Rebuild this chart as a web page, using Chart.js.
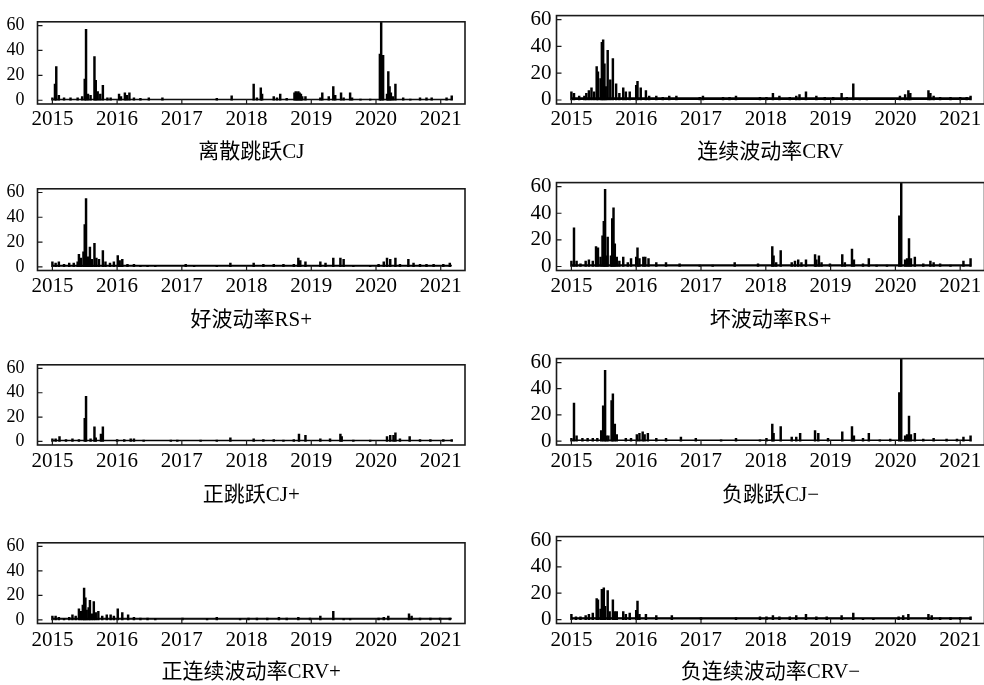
<!DOCTYPE html>
<html>
<head>
<meta charset="utf-8">
<script src="https://cdn.jsdelivr.net/npm/chart.js@4.4.1/dist/chart.umd.min.js"></script>
<style>
  html, body { margin: 0; padding: 0; background: #fff; overflow: hidden; width: 984px; height: 685px; }
  canvas { position: absolute; }
</style>
</head>
<body>
<script>
// axis ticks
const yearTicks = [2015, 2016, 2017, 2018, 2019, 2020, 2021];
const yTicks = [0, 10, 20, 30, 40, 50, 60];
const yLabelled = [0, 20, 40, 60];
const seriesStart = 2015.0, seriesEnd = 2021.17;

const titles = ['离散跳跃CJ', '连续波动率CRV', '好波动率RS+', '坏波动率RS+',
  '正跳跃CJ+', '负跳跃CJ−', '正连续波动率CRV+', '负连续波动率CRV−'];

// low-level background value of every series (the dense floor)
const floorLevels = [0.8, 1.5, 1.2, 1.2, 0.8, 0.8, 1.3, 1.3];

// spikes: [decimal year, value]
const cjSpikes = [[2015.00,2],[2015.04,13],[2015.06,27],[2015.10,4],[2015.18,2],[2015.28,2],[2015.39,2],[2015.46,3],
  [2015.50,17],[2015.52,57],[2015.55,5],[2015.59,4],[2015.65,35],[2015.67,16],[2015.70,7],[2015.74,5],[2015.78,12],
  [2015.85,2],[2015.90,2],[2016.03,5],[2016.06,3],[2016.12,6],[2016.15,4],[2016.19,6],[2016.26,2],[2016.36,1.5],
  [2016.49,2],[2016.70,2],[2017.54,1.5],[2017.77,3.5],[2018.11,13],[2018.16,2],[2018.22,10],[2018.24,5],[2018.42,3],
  [2018.47,2],[2018.52,5],[2018.62,1.5],[2018.74,6],[2018.76,7],[2018.78,6],[2018.80,7],[2018.82,6],[2018.84,5],
  [2018.86,3],[2018.91,3],[2019.14,2],[2019.17,6],[2019.27,3],[2019.34,11],[2019.37,4],[2019.46,6],[2019.50,2],
  [2019.60,6],[2019.63,2],[2019.76,1],[2019.91,1],[2020.06,37],[2020.08,63],[2020.11,36],[2020.17,5],[2020.19,23],
  [2020.21,11],[2020.23,6],[2020.26,3],[2020.30,13],[2020.42,2],[2020.53,1],[2020.68,2],[2020.78,2],[2020.86,2],
  [2021.09,2],[2021.17,3.5]];

const crvSpikes = [[2015.00,6],[2015.04,5],[2015.12,3],[2015.20,3],[2015.23,5],[2015.27,7],[2015.31,9],[2015.35,6],
  [2015.39,25],[2015.41,21],[2015.45,16],[2015.47,43],[2015.49,45],[2015.51,27],[2015.53,10],[2015.56,37],[2015.60,15],
  [2015.64,31],[2015.69,12],[2015.74,5],[2015.80,9],[2015.84,6],[2015.90,6],[2016.00,11],[2016.02,14],[2016.07,9],
  [2016.15,7],[2016.20,3],[2016.31,3],[2016.41,2],[2016.51,3],[2016.62,3],[2016.98,2],[2017.03,3],[2017.34,2],
  [2017.44,2],[2017.54,3],[2017.91,2],[2018.01,2],[2018.11,5],[2018.21,3],[2018.37,2],[2018.47,3],[2018.52,4],
  [2018.62,6],[2018.78,3],[2018.91,2],[2019.04,2],[2019.17,5],[2019.25,2],[2019.35,12],[2019.45,1],[2019.56,1],
  [2020.07,3],[2020.15,4],[2020.20,7],[2020.23,5],[2020.51,7],[2020.54,5],[2020.59,3],[2020.69,2],[2020.85,2],
  [2021.00,2],[2021.10,2],[2021.16,3]];

const rsGoodSpikes = [[2015.00,4],[2015.05,3],[2015.10,4],[2015.18,2],[2015.26,3],[2015.33,3],[2015.39,4],[2015.41,10],
  [2015.44,7],[2015.48,12],[2015.50,34],[2015.52,55],[2015.55,8],[2015.58,16],[2015.61,6],[2015.65,19],[2015.68,7],
  [2015.72,6],[2015.78,13],[2015.82,4],[2015.89,3],[2015.95,4],[2016.01,9],[2016.04,5],[2016.08,6],[2016.16,2],
  [2016.26,2],[2016.36,1],[2016.47,1],[2016.59,1],[2017.06,2],[2017.19,1],[2017.54,1],[2017.75,3],[2018.11,3],
  [2018.26,2],[2018.42,2],[2018.57,2],[2018.73,2],[2018.80,7],[2018.83,5],[2018.91,4],[2019.14,4],[2019.22,3],
  [2019.34,7],[2019.45,7],[2019.50,6],[2019.65,1],[2019.91,1],[2020.04,2],[2020.12,4],[2020.17,7],[2020.22,6],
  [2020.30,7],[2020.37,2],[2020.50,6],[2020.58,3],[2020.68,2],[2020.78,2],[2020.89,2],[2021.04,2],[2021.14,3]];

const rsBadSpikes = [[2015.00,4],[2015.04,29],[2015.08,4],[2015.14,2],[2015.22,4],[2015.27,5],[2015.33,4],[2015.38,15],
  [2015.41,14],[2015.45,7],[2015.48,23],[2015.50,34],[2015.52,58],[2015.54,8],[2015.56,22],[2015.61,8],[2015.63,36],
  [2015.65,44],[2015.67,17],[2015.70,7],[2015.74,4],[2015.80,7],[2015.87,3],[2015.92,6],[2016.00,7],[2016.02,14],
  [2016.05,6],[2016.11,7],[2016.14,7],[2016.19,6],[2016.31,3],[2016.46,3],[2016.67,2],[2016.98,1],[2017.18,1],
  [2017.52,3],[2017.88,2],[2018.10,15],[2018.12,8],[2018.16,3],[2018.23,12],[2018.40,3],[2018.45,4],[2018.50,5],
  [2018.55,3],[2018.62,5],[2018.76,9],[2018.78,5],[2018.82,8],[2018.86,3],[2018.99,2],[2019.18,9],[2019.22,3],
  [2019.33,13],[2019.36,5],[2019.50,2],[2019.59,6],[2019.71,1],[2019.87,1],[2020.06,38],[2020.09,63],[2020.15,5],
  [2020.18,6],[2020.21,21],[2020.24,6],[2020.30,7],[2020.43,2],[2020.54,4],[2020.59,3],[2020.69,2],[2020.85,1],
  [2021.05,4],[2021.16,6]];

const cjPosSpikes = [[2015.00,2],[2015.05,2],[2015.11,4],[2015.21,1.5],[2015.31,2],[2015.41,1.5],[2015.50,19],
  [2015.52,37],[2015.59,2],[2015.65,12],[2015.67,3],[2015.75,6],[2015.78,12],[2016.00,1.5],[2016.11,1.5],[2016.21,2],
  [2016.26,2],[2016.41,1],[2016.83,1],[2016.93,1],[2017.29,1],[2017.54,1],[2017.75,3],[2018.11,2],[2018.26,1.5],
  [2018.42,1.5],[2018.57,1],[2018.73,1.5],[2018.81,6],[2018.91,5],[2019.14,2],[2019.29,2],[2019.45,6],[2019.47,4],
  [2019.65,1],[2019.91,1],[2020.17,4],[2020.22,5],[2020.27,5],[2020.30,7],[2020.37,2],[2020.52,4],[2020.68,1.5],
  [2020.84,1.5],[2021.04,1.5],[2021.17,1.5]];

const cjNegSpikes = [[2015.00,2],[2015.04,29],[2015.08,4],[2015.17,2],[2015.25,2],[2015.33,2],[2015.40,2],[2015.46,8],
  [2015.49,27],[2015.52,54],[2015.54,4],[2015.57,4],[2015.62,31],[2015.64,36],[2015.67,13],[2015.70,5],[2015.84,2],
  [2015.92,2],[2016.01,5],[2016.05,6],[2016.10,7],[2016.13,5],[2016.18,6],[2016.31,2],[2016.46,2],[2016.69,3],
  [2016.92,2],[2017.31,1],[2017.54,2],[2017.91,1],[2018.01,2],[2018.10,13],[2018.12,6],[2018.23,11],[2018.40,3],
  [2018.47,3],[2018.53,6],[2018.76,8],[2018.81,6],[2018.96,2],[2019.18,7],[2019.33,11],[2019.36,4],[2019.50,2],
  [2019.59,6],[2019.76,1],[2019.92,1.5],[2020.06,37],[2020.09,63],[2020.15,4],[2020.18,5],[2020.21,19],[2020.24,5],
  [2020.30,6],[2020.43,1.5],[2020.59,2],[2020.79,1.5],[2020.95,1.5],[2021.05,3],[2021.16,4]];

const crvPosSpikes = [[2015.00,3],[2015.05,3],[2015.10,2],[2015.18,1],[2015.26,2],[2015.31,4],[2015.36,3],[2015.41,9],
  [2015.44,7],[2015.47,12],[2015.49,26],[2015.51,18],[2015.53,8],[2015.56,10],[2015.58,16],[2015.61,5],[2015.64,15],
  [2015.67,6],[2015.71,7],[2015.77,3],[2015.84,4],[2015.90,4],[2015.95,3],[2016.01,9],[2016.08,6],[2016.17,4],
  [2016.26,2],[2016.36,1.5],[2016.47,1.5],[2016.59,1],[2017.01,1.5],[2017.39,1],[2017.54,2],[2017.90,1],[2018.03,1.5],
  [2018.16,1.5],[2018.32,1.5],[2018.50,2],[2018.62,1.5],[2018.80,2],[2018.98,1.5],[2019.14,3],[2019.34,7],[2019.50,1],
  [2019.60,1],[2020.04,1.5],[2020.12,2],[2020.19,3],[2020.51,5],[2020.55,3],[2020.68,1.5],[2020.84,1.5],[2020.99,1.5],
  [2021.14,1.5]];

const crvNegSpikes = [[2015.00,4],[2015.07,2],[2015.14,2],[2015.22,3],[2015.27,4],[2015.33,5],[2015.39,16],[2015.41,15],
  [2015.45,8],[2015.47,23],[2015.50,24],[2015.52,10],[2015.56,22],[2015.59,6],[2015.64,15],[2015.67,6],[2015.70,6],
  [2015.80,6],[2015.84,4],[2015.90,5],[2016.00,7],[2016.02,14],[2016.05,4],[2016.15,4],[2016.31,3],[2016.55,3],
  [2017.00,1.5],[2017.54,1.5],[2017.91,2],[2018.01,2],[2018.11,3],[2018.21,2],[2018.37,2],[2018.47,3],[2018.62,4],
  [2018.78,2],[2018.94,2],[2019.17,3],[2019.35,5],[2019.50,1],[2019.66,1],[2020.05,2],[2020.12,3],[2020.20,4],
  [2020.51,4],[2020.56,3],[2020.69,1.5],[2020.85,1.5],[2021.00,1.5],[2021.16,2]];

const allSpikes = [cjSpikes, crvSpikes, rsGoodSpikes, rsBadSpikes, cjPosSpikes, cjNegSpikes, crvPosSpikes, crvNegSpikes];

// frame of each panel on the page
const rows = [
  {top: 12, bottom: 104, tickPad: 3, titleGap: 48},
  {top: 179, bottom: 270.5, tickPad: 3, titleGap: 50},
  {top: 355, bottom: 445, tickPad: 4, titleGap: 50},
  {top: 532.5, bottom: 623, tickPad: 4, titleGap: 49}
];
const cols = [
  {canvasLeft: 0, canvasWidth: 492, frameLeft: 37.5, frameRight: 465, yFont: 18, yPad: 13},
  {canvasLeft: 492, canvasWidth: 500, frameLeft: 556.5, frameRight: 984.5, yFont: 21, yPad: 5}
];
const canvasH = 175, padTop = 14;
const serif = '"Liberation Serif", "Times New Roman", serif';

const framePlugin = {
  id: 'frame',
  afterDraw(chart) {
    const {ctx, chartArea: a, scales: {x, y}} = chart;
    ctx.save();
    ctx.strokeStyle = '#1a1a1a';
    ctx.lineWidth = 1.2;
    ctx.beginPath();
    y.ticks.forEach(t => {
      const p = y.getPixelForValue(t.value);
      ctx.moveTo(a.left, p); ctx.lineTo(a.left + 5, p);
    });
    x.ticks.forEach(t => {
      const p = x.getPixelForValue(t.value);
      ctx.moveTo(p, a.bottom); ctx.lineTo(p, a.bottom - 5);
    });
    ctx.stroke();
    ctx.lineWidth = 1.6;
    ctx.strokeRect(a.left, a.top, a.right - a.left, a.bottom - a.top);
    ctx.restore();
  }
};

allSpikes.forEach((spikes, i) => {
  const row = rows[Math.floor(i / 2)], col = cols[i % 2];
  const cv = document.createElement('canvas');
  cv.style.left = col.canvasLeft + 'px';
  cv.style.top = (row.top - padTop) + 'px';
  cv.style.width = col.canvasWidth + 'px';
  cv.style.height = canvasH + 'px';
  cv.width = col.canvasWidth;
  cv.height = canvasH;
  document.body.appendChild(cv);

  const frameH = row.bottom - row.top;
  const xAxisH = canvasH - padTop - frameH;
  const titleSize = 21;
  const titleBottomPad = canvasH - padTop - frameH - row.titleGap - titleSize * 1.2 / 2;

  new Chart(cv, {
    type: 'bar',
    data: {
      datasets: [
        {
          type: 'line',
          data: [{x: seriesStart, y: floorLevels[i]}, {x: seriesEnd, y: floorLevels[i]}],
          borderColor: '#000',
          borderWidth: 1.2,
          backgroundColor: '#000',
          fill: 'origin',
          pointRadius: 0
        },
        {
          data: spikes.map(([x, y]) => ({x, y})),
          backgroundColor: '#000',
          barThickness: 1.8
        }
      ]
    },
    options: {
      responsive: false,
      animation: false,
      events: [],
      layout: {padding: {top: padTop, right: col.canvasWidth - (col.frameRight - col.canvasLeft), left: 0, bottom: 0}},
      plugins: {legend: {display: false}, tooltip: {enabled: false}},
      scales: {
        x: {
          type: 'linear',
          offset: false,
          min: 2014.77,
          max: 2021.375,
          grid: {display: false, offset: false, drawTicks: false},
          border: {display: false},
          afterBuildTicks: s => { s.ticks = yearTicks.map(v => ({value: v})); },
          afterFit: s => { s.height = xAxisH; },
          ticks: {
            autoSkip: false,
            maxRotation: 0,
            padding: row.tickPad,
            color: '#000',
            font: {family: serif, size: 21},
            callback: v => String(v)
          },
          title: {
            display: true,
            text: titles[i],
            color: '#000',
            font: {family: '"Liberation Serif", "Noto Sans CJK SC", serif', size: titleSize},
            padding: {top: 0, bottom: titleBottomPad}
          }
        },
        y: {
          min: -3,
          max: 63,
          grid: {display: false, drawTicks: false},
          border: {display: false},
          afterBuildTicks: s => { s.ticks = yTicks.map(v => ({value: v})); },
          afterFit: s => { s.width = col.frameLeft - col.canvasLeft; },
          ticks: {
            padding: col.yPad,
            color: '#000',
            font: {family: serif, size: col.yFont},
            callback: v => yLabelled.includes(v) ? String(v) : ''
          }
        }
      }
    },
    plugins: [framePlugin]
  });
});
</script>
</body>
</html>
